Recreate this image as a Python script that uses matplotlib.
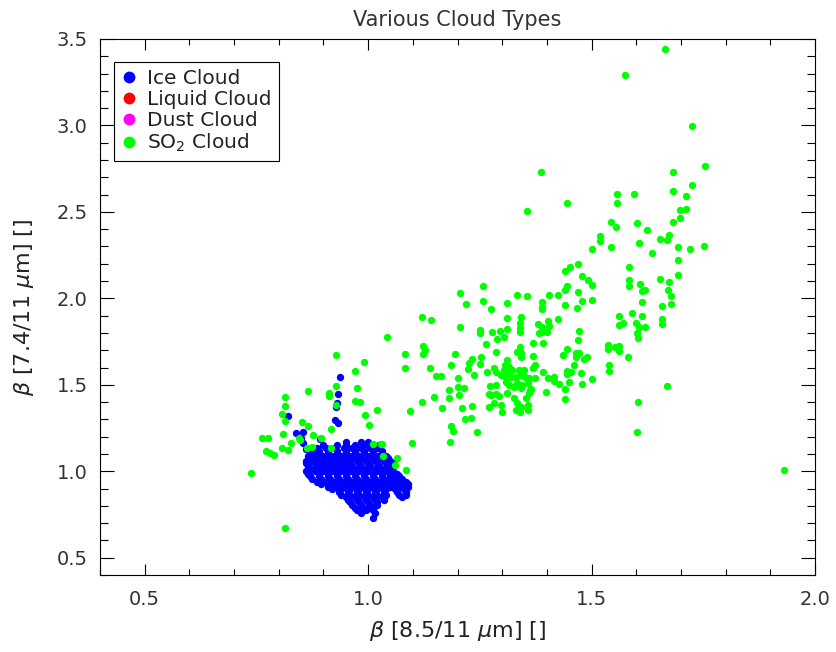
import matplotlib
matplotlib.use('Agg')
import matplotlib.pyplot as plt
from matplotlib.lines import Line2D
from matplotlib.ticker import MultipleLocator, FormatStrFormatter

# SO2 cloud points (x = beta 8.5/11, y = beta 7.4/11)
so2_points = [
    (1.665, 3.44), (1.574, 3.294), (1.724, 2.995), (1.753, 2.764), (1.683, 2.731), (1.724, 2.658),
    (1.387, 2.728), (1.683, 2.62), (1.712, 2.59), (1.558, 2.606), (1.594, 2.606), (1.446, 2.55),
    (1.558, 2.552), (1.356, 2.504), (1.697, 2.51), (1.712, 2.514), (1.697, 2.467), (1.683, 2.439),
    (1.543, 2.442), (1.555, 2.415), (1.601, 2.433), (1.624, 2.394),
    (1.674, 2.369), (1.653, 2.342), (1.668, 2.335), (1.52, 2.36), (1.52, 2.331), (1.607, 2.323),
    (1.502, 2.286), (1.543, 2.296), (1.635, 2.26), (1.693, 2.296), (1.721, 2.288), (1.752, 2.303),
    (1.693, 2.219), (1.584, 2.184), (1.469, 2.199), (1.451, 2.184), (1.44, 2.161), (1.693, 2.136),
    (1.478, 2.13), (1.493, 2.105), (1.502, 2.075), (1.653, 2.111), (1.673, 2.092), (1.584, 2.107),
    (1.584, 2.071), (1.608, 2.084), (1.612, 2.042), (1.62, 2.049), (1.672, 2.051), (1.678, 2.011),
    (1.446, 2.071), (1.44, 2.051), (1.405, 2.018), (1.424, 2.017), (1.469, 2.034), (1.478, 1.986),
    (1.502, 1.99), (1.44, 1.961), (1.467, 1.943), (1.39, 1.98), (1.39, 1.951), (1.612, 1.978),
    (1.678, 1.966), (1.657, 1.953), (1.59, 1.918), (1.612, 1.899), (1.561, 1.897), (1.561, 1.845),
    (1.57, 1.855), (1.424, 1.88), (1.402, 1.87), (1.405, 1.841), (1.39, 1.835), (1.4, 1.803),
    (1.39, 1.806), (1.658, 1.88), (1.658, 1.851), (1.6, 1.855), (1.607, 1.835), (1.62, 1.835),
    (1.602, 1.801), (1.605, 1.768), (1.472, 1.814), (1.469, 1.757), (1.392, 1.739), (1.536, 1.733),
    (1.536, 1.706), (1.552, 1.72), (1.562, 1.724), (1.561, 1.695), (1.582, 1.66), (1.446, 1.706),
    (1.436, 1.67), (1.465, 1.682), (1.472, 1.682), (1.465, 1.658), (1.482, 1.649), (1.489, 1.658),
    (1.46, 1.614), (1.539, 1.614), (1.539, 1.581), (1.392, 1.575), (1.445, 1.579), (1.445, 1.562),
    (1.476, 1.568), (1.403, 1.537), (1.415, 1.546), (1.416, 1.521), (1.428, 1.502), (1.45, 1.514),
    (1.5, 1.535), (1.478, 1.502), (1.44, 1.475), (1.399, 1.458), (1.44, 1.419), (1.668, 1.494),
    (1.603, 1.402), (1.602, 1.228),
    (1.258, 2.069), (1.205, 2.03), (1.218, 1.968), (1.257, 1.986), (1.276, 1.936), (1.31, 1.974),
    (1.334, 2.017), (1.355, 2.011), (1.388, 1.94), (1.121, 1.891), (1.14, 1.874), (1.342, 1.893),
    (1.31, 1.884), (1.205, 1.835), (1.25, 1.816), (1.25, 1.797), (1.278, 1.803), (1.295, 1.812),
    (1.31, 1.822), (1.288, 1.766), (1.304, 1.776), (1.34, 1.858), (1.34, 1.826), (1.34, 1.806),
    (1.381, 1.853), (1.383, 1.798), (1.264, 1.737), (1.369, 1.739), (1.287, 1.691), (1.34, 1.718),
    (1.342, 1.682), (1.334, 1.691), (1.342, 1.659), (1.369, 1.668), (1.123, 1.725), (1.127, 1.701),
    (1.123, 1.678), (1.083, 1.678), (1.195, 1.678), (1.043, 1.774), (1.083, 1.599), (1.138, 1.599),
    (1.185, 1.614), (1.252, 1.658), (1.232, 1.647), (1.226, 1.624), (1.224, 1.589), (1.25, 1.618),
    (1.237, 1.556), (1.267, 1.575), (1.151, 1.55), (1.162, 1.55), (1.2, 1.537), (1.282, 1.595),
    (1.287, 1.575),
    (1.31, 1.643), (1.306, 1.614), (1.316, 1.604), (1.303, 1.585), (1.312, 1.575), (1.323, 1.585),
    (1.298, 1.556), (1.308, 1.546), (1.319, 1.546), (1.33, 1.546), (1.342, 1.556), (1.351, 1.546),
    (1.36, 1.537), (1.338, 1.585), (1.349, 1.585), (1.308, 1.518), (1.316, 1.498), (1.334, 1.508),
    (1.345, 1.498), (1.357, 1.508), (1.364, 1.473), (1.342, 1.479), (1.327, 1.489), (1.31, 1.45),
    (1.374, 1.537), (1.37, 1.595), (1.373, 1.614), (1.286, 1.498), (1.273, 1.494), (1.287, 1.445),
    (1.274, 1.441), (1.293, 1.435), (1.271, 1.445), (1.282, 1.392), (1.297, 1.383), (1.271, 1.369),
    (1.3, 1.344), (1.327, 1.421), (1.334, 1.392), (1.342, 1.373), (1.353, 1.421), (1.357, 1.383),
    (1.33, 1.354), (1.34, 1.344), (1.357, 1.354), (1.362, 1.469), (1.36, 1.45), (1.454, 1.575),
    (1.201, 1.489), (1.215, 1.479), (1.203, 1.441), (1.181, 1.469), (1.181, 1.421), (1.147, 1.431),
    (1.166, 1.367), (1.209, 1.367), (1.232, 1.379), (1.185, 1.261), (1.191, 1.234), (1.217, 1.3),
    (1.23, 1.309), (1.244, 1.229), (1.094, 1.35), (1.121, 1.399), (1.099, 1.163), (1.183, 1.169),
    (1.032, 1.157),
    (0.929, 1.673), (0.99, 1.633), (0.97, 1.581), (0.866, 1.464), (0.913, 1.45), (0.913, 1.435),
    (0.929, 1.492), (0.974, 1.479), (0.97, 1.408), (0.981, 1.4), (0.929, 1.383), (0.813, 1.427),
    (0.813, 1.379), (0.808, 1.331), (0.813, 1.29), (0.993, 1.325), (1.02, 1.352), (1.002, 1.267),
    (0.852, 1.284), (0.866, 1.261), (0.918, 1.244), (0.876, 1.209), (0.809, 1.213), (0.763, 1.194),
    (0.775, 1.194), (0.845, 1.194), (0.848, 1.18), (0.895, 1.19), (0.828, 1.165), (0.772, 1.117),
    (0.781, 1.103), (0.79, 1.094), (0.807, 1.132), (0.821, 1.123), (0.863, 1.132), (0.874, 1.138),
    (0.918, 1.132), (1.01, 1.155), (1.028, 1.155), (1.033, 1.09), (1.065, 1.075), (1.061, 1.036),
    (1.084, 1.007), (0.738, 0.988), (0.813, 0.67), (1.931, 1.007),
]

# ice cloud: scattered points off the main blob
ice_points = [
    (0.936, 1.546), (0.933, 1.446), (0.93, 1.392), (0.929, 1.373), (0.925, 1.296), (0.933, 1.28),
    (0.821, 1.319), (0.839, 1.223), (0.854, 1.228), (0.854, 1.165), (0.85, 1.19), (0.893, 1.188),
    (0.86, 1.13), (0.875, 1.12),
]

# ice cloud blob, one row per beta(7.4/11) level
ice_rows = {
    1.17: [0.95, 0.985, 1.00],
    1.15: [0.90, 0.93, 0.95, 0.97, 0.99, 1.01, 1.025],
    1.135: [0.885, 0.905, 0.925, 0.945, 0.965, 0.985, 1.005, 1.02],
    1.12: [0.875, 0.89, 0.91, 0.93, 0.95, 0.97, 0.99, 1.01, 1.03],
    1.105: [0.87, 0.89, 0.91, 0.93, 0.95, 0.97, 0.99, 1.01, 1.03],
    1.09: [0.865, 0.88, 0.90, 0.92, 0.94, 0.96, 0.98, 1.00, 1.02, 1.04],
    1.075: [0.87, 0.885, 0.905, 0.925, 0.945, 0.965, 0.985, 1.005, 1.025, 1.045],
    1.06: [0.86, 0.875, 0.895, 0.915, 0.935, 0.955, 0.975, 0.995, 1.015, 1.035, 1.05],
    1.045: [0.86, 0.88, 0.90, 0.92, 0.94, 0.96, 0.98, 1.00, 1.02, 1.04, 1.055],
    1.03: [0.865, 0.885, 0.905, 0.925, 0.945, 0.965, 0.985, 1.005, 1.025, 1.045],
    1.015: [0.865, 0.875, 0.895, 0.915, 0.935, 0.955, 0.975, 0.995, 1.015, 1.035, 1.05],
    1.00: [0.86, 0.88, 0.90, 0.92, 0.94, 0.96, 0.98, 1.00, 1.02, 1.04, 1.055],
    0.985: [0.865, 0.89, 0.91, 0.93, 0.95, 0.97, 0.99, 1.01, 1.03, 1.05, 1.065],
    0.97: [0.87, 0.89, 0.91, 0.93, 0.95, 0.97, 0.99, 1.01, 1.03, 1.05, 1.07],
    0.955: [0.875, 0.895, 0.915, 0.935, 0.955, 0.975, 0.995, 1.015, 1.035, 1.055, 1.075],
    0.94: [0.885, 0.905, 0.925, 0.945, 0.965, 0.985, 1.005, 1.025, 1.045, 1.065, 1.085],
    0.925: [0.895, 0.915, 0.935, 0.955, 0.975, 0.995, 1.015, 1.035, 1.055, 1.075, 1.09],
    0.91: [0.91, 0.93, 0.95, 0.97, 0.99, 1.01, 1.03, 1.05, 1.07, 1.09],
    0.895: [0.92, 0.94, 0.96, 0.98, 1.00, 1.02, 1.04, 1.06, 1.08],
    0.88: [0.935, 0.955, 0.975, 0.995, 1.015, 1.035, 1.065, 1.085],
    0.865: [0.94, 0.96, 0.98, 1.00, 1.02, 1.04, 1.07, 1.085],
    0.85: [0.95, 0.97, 0.99, 1.01, 1.03, 1.075],
    0.835: [0.955, 0.975, 0.995, 1.015, 1.035],
    0.82: [0.96, 0.98, 1.00, 1.02],
    0.805: [0.965, 0.985, 1.005, 1.02],
    0.79: [0.97, 0.99, 1.01],
    0.775: [0.975, 0.995, 1.01],
    0.76: [0.985, 1.015],
    0.73: [1.01],
}

legend_labels = ['Ice Cloud', 'Liquid Cloud', 'Dust Cloud', r'SO$_2$ Cloud']
legend_colors = ['#0000ff', '#ff0000', '#ff00ff', '#00ff00']

ice_x = [p[0] for p in ice_points]
ice_y = [p[1] for p in ice_points]
for yv, xs in ice_rows.items():
    ice_x += xs
    ice_y += [yv] * len(xs)
so2_x = [p[0] for p in so2_points]
so2_y = [p[1] for p in so2_points]

plt.rcParams['font.family'] = 'DejaVu Sans'
fig = plt.figure(figsize=(8.37, 6.52), dpi=100)
ax = fig.add_axes([0.1195, 0.1181, 0.8542, 0.8221])

ax.plot(ice_x, ice_y, 'o', color='#0000ff', ms=5.3, mew=0)
ax.plot(so2_x, so2_y, 'o', color='#00ff00', ms=5.3, mew=0)

ax.set_xlim(0.4, 2.0)
ax.set_ylim(0.4, 3.5)
ax.xaxis.set_major_locator(MultipleLocator(0.5))
ax.xaxis.set_minor_locator(MultipleLocator(0.1))
ax.yaxis.set_major_locator(MultipleLocator(0.5))
ax.yaxis.set_minor_locator(MultipleLocator(0.1))
ax.xaxis.set_major_formatter(FormatStrFormatter('%.1f'))
ax.yaxis.set_major_formatter(FormatStrFormatter('%.1f'))

ax.tick_params(which='both', direction='in', top=True, right=True, width=0.8,
               labelsize=14, labelcolor='#333333')
ax.tick_params(axis='x', which='major', length=7.7, pad=11)
ax.tick_params(axis='x', which='minor', length=4.1)
ax.tick_params(axis='y', which='major', length=10.3, pad=9)
ax.tick_params(axis='y', which='minor', length=5.5)
for s in ax.spines.values():
    s.set_linewidth(0.8)

ax.set_title('Various Cloud Types', fontsize=15, color='#333333', pad=9)
ax.set_xlabel(r'$\beta$ [8.5/11 $\mu$m] []', fontsize=16, color='#222222', labelpad=7)
ax.set_ylabel(r'$\beta$ [7.4/11 $\mu$m] []', fontsize=16, color='#222222', labelpad=15)

handles = [Line2D([], [], marker='o', ls='', color=c, ms=8.5, mew=0) for c in legend_colors]
leg = ax.legend(handles, legend_labels, loc='upper left', bbox_to_anchor=(0.0196, 0.957),
                borderaxespad=0, fontsize=14.5, handlelength=0.8, handletextpad=0.5,
                labelspacing=0.1, borderpad=0.35, fancybox=False, framealpha=1,
                edgecolor='black')
leg.get_frame().set_linewidth(0.8)
for t in leg.get_texts():
    t.set_color('#222222')

fig.savefig('out.png', dpi=100)
